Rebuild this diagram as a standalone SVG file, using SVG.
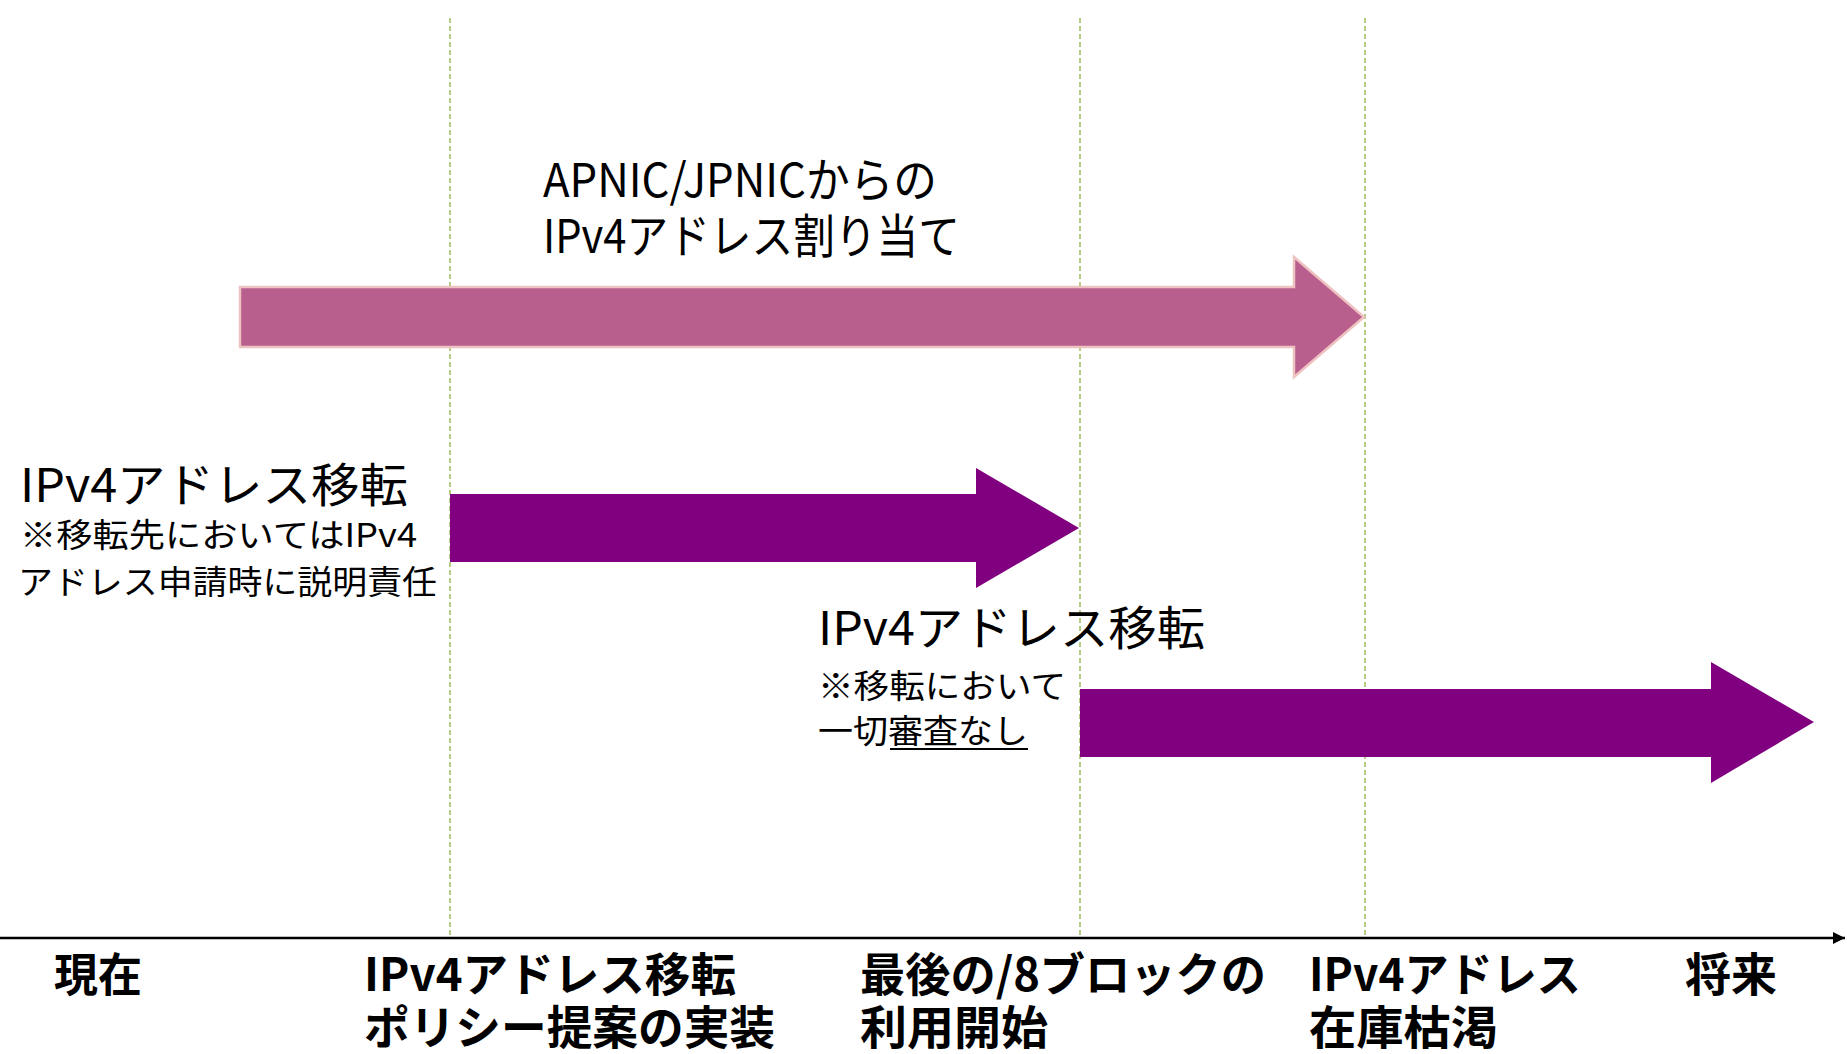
<svg xmlns="http://www.w3.org/2000/svg" width="1847" height="1054" viewBox="0 0 1847 1054">
  <defs>
    <style>
      .t { font-family: "Noto Sans CJK JP", "Noto Sans", sans-serif; fill: #000; }
      .big { font-size: 47px; }
      .sub { font-size: 33px; }
      .lbl { font-size: 46px; font-weight: 700; }
      .guide { stroke: #9BBB59; stroke-width: 1.5; stroke-dasharray: 5 3; fill: none; }
      .purple { fill: #800080; }
      .pink { fill: #B85F8D; stroke: #EFC2C2; stroke-width: 2.5; }
    </style>
    <marker id="axisHead" viewBox="0 0 10 10" refX="10" refY="5" markerWidth="5" markerHeight="5" orient="auto" markerUnits="strokeWidth">
      <path d="M0,0 L10,5 L0,10 Z" fill="#000"/>
    </marker>
  </defs>
  <rect width="1847" height="1054" fill="#fff"/>

  <g id="connectors">
    <line class="guide" x1="450" y1="18" x2="450" y2="935"/>
    <line class="guide" x1="1080" y1="18" x2="1080" y2="935"/>
    <line class="guide" x1="1365" y1="18" x2="1365" y2="935"/>
    <line x1="0" y1="938" x2="1845" y2="938" stroke="#000" stroke-width="2.5" marker-end="url(#axisHead)"/>
  </g>

  <g id="arrow-allocation">
    <polygon class="pink" points="240,287 1294,287 1294,257 1364,317 1294,377 1294,347 240,347"/>
    <text class="t big" x="543" y="197" textLength="394" lengthAdjust="spacingAndGlyphs">APNIC/JPNICからの</text>
    <text class="t big" x="543" y="253" textLength="417" lengthAdjust="spacingAndGlyphs">IPv4アドレス割り当て</text>
  </g>

  <g id="arrow-transfer1">
    <polygon class="purple" points="450,494 976,494 976,468 1079,528 976,588 976,562 450,562"/>
    <text class="t big" x="20" y="502" textLength="388" lengthAdjust="spacingAndGlyphs">IPv4アドレス移転</text>
    <text class="t sub" x="20" y="547" textLength="397" lengthAdjust="spacingAndGlyphs">※移転先においてはIPv4</text>
    <text class="t sub" x="18" y="594" textLength="419" lengthAdjust="spacingAndGlyphs">アドレス申請時に説明責任</text>
  </g>

  <g id="arrow-transfer2">
    <polygon class="purple" points="1080,689 1711,689 1711,662 1814,722 1711,783 1711,757 1080,757"/>
    <text class="t big" x="818" y="645" textLength="387" lengthAdjust="spacingAndGlyphs">IPv4アドレス移転</text>
    <text class="t sub" x="818" y="698" textLength="248" lengthAdjust="spacingAndGlyphs">※移転において</text>
    <text class="t sub" x="818" y="743" textLength="210" lengthAdjust="spacingAndGlyphs">一切審査なし</text>
    <line x1="890" y1="749" x2="1028" y2="749" stroke="#000" stroke-width="2"/>
  </g>

  <g id="label-now">
    <text class="t lbl" x="54" y="991" textLength="88" lengthAdjust="spacingAndGlyphs">現在</text>
  </g>
  <g id="label-policy">
    <text class="t lbl" x="364" y="991" textLength="372" lengthAdjust="spacingAndGlyphs">IPv4アドレス移転</text>
    <text class="t lbl" x="364" y="1044" textLength="411" lengthAdjust="spacingAndGlyphs">ポリシー提案の実装</text>
  </g>
  <g id="label-last8">
    <text class="t lbl" x="860" y="991" textLength="406" lengthAdjust="spacingAndGlyphs">最後の/8ブロックの</text>
    <text class="t lbl" x="860" y="1044" textLength="188" lengthAdjust="spacingAndGlyphs">利用開始</text>
  </g>
  <g id="label-exhaust">
    <text class="t lbl" x="1309" y="991" textLength="272" lengthAdjust="spacingAndGlyphs">IPv4アドレス</text>
    <text class="t lbl" x="1309" y="1044" textLength="189" lengthAdjust="spacingAndGlyphs">在庫枯渇</text>
  </g>
  <g id="label-future">
    <text class="t lbl" x="1685" y="991" textLength="92" lengthAdjust="spacingAndGlyphs">将来</text>
  </g>
</svg>
